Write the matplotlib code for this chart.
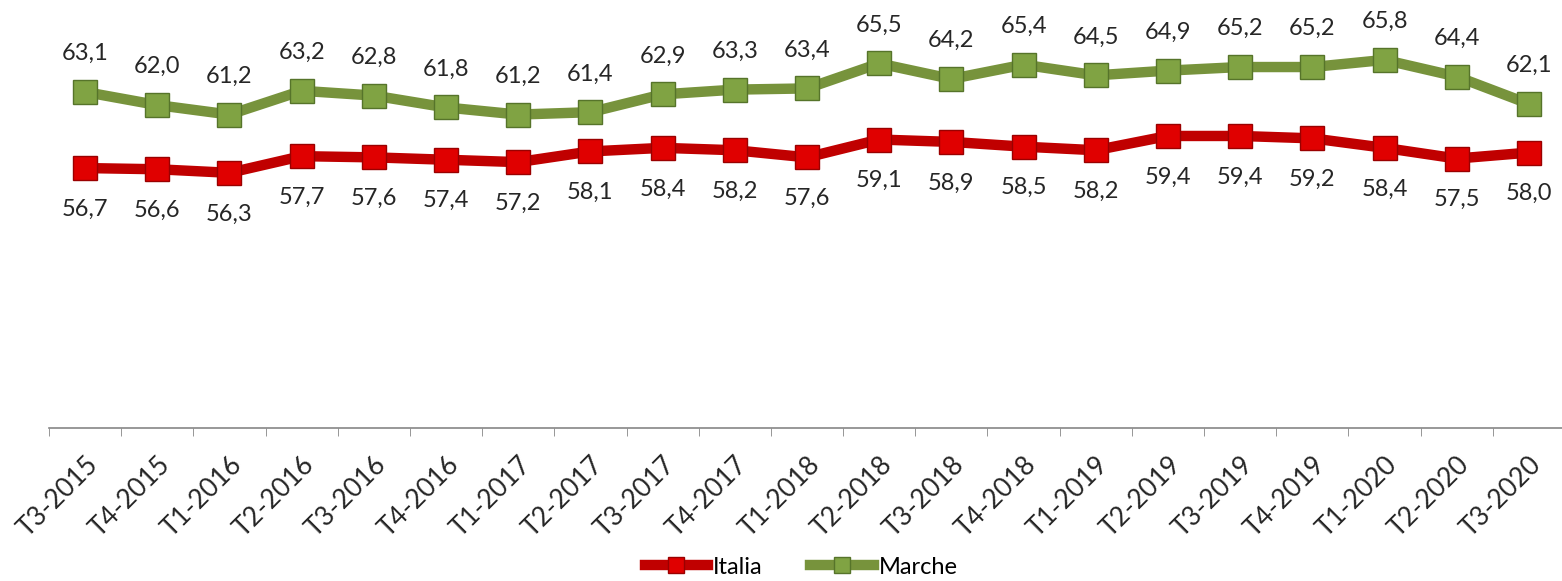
import matplotlib.pyplot as plt
import numpy as np

quarters = ["T3-2015", "T4-2015", "T1-2016", "T2-2016", "T3-2016", "T4-2016",
            "T1-2017", "T2-2017", "T3-2017", "T4-2017", "T1-2018", "T2-2018",
            "T3-2018", "T4-2018", "T1-2019", "T2-2019", "T3-2019", "T4-2019",
            "T1-2020", "T2-2020", "T3-2020"]
italia = [56.7, 56.6, 56.3, 57.7, 57.6, 57.4, 57.2, 58.1, 58.4, 58.2, 57.6,
          59.1, 58.9, 58.5, 58.2, 59.4, 59.4, 59.2, 58.4, 57.5, 58.0]
marche = [63.1, 62.0, 61.2, 63.2, 62.8, 61.8, 61.2, 61.4, 62.9, 63.3, 63.4,
          65.5, 64.2, 65.4, 64.5, 64.9, 65.2, 65.2, 65.8, 64.4, 62.1]

plt.rcParams["font.family"] = ["Lato", "DejaVu Sans"]

W, H = 1562, 581
fig = plt.figure(figsize=(W / 100, H / 100), dpi=100)
ax = fig.add_axes([49 / W, (H - 428) / H, 1516 / W, (428 - 12) / H])

x = np.arange(len(quarters))
ax.plot(x, italia, color="#C00000", lw=7.5, marker="s", ms=17,
        mfc="#E00000", mec="#9A0000", mew=1, label="Italia", zorder=3)
ax.plot(x, marche, color="#77933C", lw=7.5, marker="s", ms=17,
        mfc="#80A343", mec="#56742A", mew=1, label="Marche", zorder=3)

for xi, v in zip(x, marche):
    ax.annotate(f"{v:.1f}".replace(".", ","), (xi, v), xytext=(0, 20),
                textcoords="offset points", ha="center", va="bottom",
                fontsize=17, color="#262626")
for xi, v in zip(x, italia):
    ax.annotate(f"{v:.1f}".replace(".", ","), (xi, v), xytext=(0, -22),
                textcoords="offset points", ha="center", va="top",
                fontsize=17, color="#262626")

ax.set_xlim(-0.5, len(quarters) - 0.5)
ax.set_ylim(34.83, 69.83)
ax.set_yticks([])
ax.set_xticks(x)
ax.set_xticklabels(quarters, rotation=45, ha="right", rotation_mode="anchor",
                   fontsize=19, color="#262626")
ax.set_xticks(np.arange(len(quarters) + 1) - 0.5, minor=True)
ax.tick_params(axis="x", which="major", length=0, pad=17)
ax.tick_params(axis="x", which="minor", length=6, color="#868686")
for side in ["top", "right", "left"]:
    ax.spines[side].set_visible(False)
ax.spines["bottom"].set_color("#868686")
ax.spines["bottom"].set_linewidth(1.2)

fig.legend(loc="center", ncol=2, frameon=False, fontsize=17,
           bbox_to_anchor=(801 / W, 14 / H), handlelength=2.7,
           columnspacing=2.0, handletextpad=0.2, markerscale=0.7)

fig.savefig("out.png", dpi=100)
plt.close(fig)
